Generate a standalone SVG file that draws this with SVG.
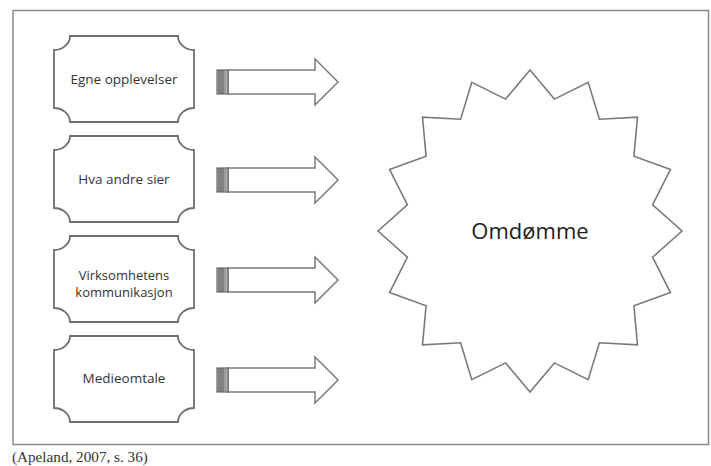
<svg xmlns="http://www.w3.org/2000/svg" width="711" height="466" viewBox="0 0 711 466">
<style>
.frame{fill:none;stroke:#8a8a8a;stroke-width:1.5}
.box{fill:#fff;stroke:#6e6e6e;stroke-width:1.8}
.lbl{font-family:"Open Sans","Liberation Sans",sans-serif;font-size:13.5px;fill:#333;text-anchor:middle}
.arrow{fill:#fff;stroke:#7a7a7a;stroke-width:1.5;stroke-linejoin:miter}
.star{fill:#fff;stroke:#7a7a7a;stroke-width:1.6;stroke-linejoin:miter}
.big{font-family:"Open Sans","Liberation Sans",sans-serif;font-size:22px;fill:#222;text-anchor:middle}
.cap{font-family:"Liberation Serif","Times New Roman",serif;font-size:15.2px;fill:#333}
</style>
<defs>
<path id="plaque" d="M70,36 H178 A16,14 0 0 0 194,50 V108 A16,14 0 0 0 178,122 H70 A16,14 0 0 0 54,108 V50 A16,14 0 0 0 70,36 Z"/>
<g id="arr">
<path class="arrow" d="M228,-12 H315 V-23 L338,0 L315,23 V12 H228 Z"/>
<rect x="217" y="-12" width="11" height="24" fill="#b0b0b0" stroke="#6a6a6a" stroke-width="1.2"/>
<g stroke="#555" stroke-width="1">
<line x1="219" y1="-12" x2="219" y2="12"/>
<line x1="221" y1="-12" x2="221" y2="12"/>
<line x1="223" y1="-12" x2="223" y2="12"/>
<line x1="225" y1="-12" x2="225" y2="12" stroke="#888"/>
</g>
</g>
</defs>
<rect class="frame" x="13" y="10.5" width="695.5" height="434"/>
<g id="node-egne">
<use href="#plaque" class="box"/>
<text class="lbl" x="124" y="84">Egne opplevelser</text>
</g>
<g id="node-hva">
<use href="#plaque" class="box" transform="translate(0,100)"/>
<text class="lbl" x="124" y="184">Hva andre sier</text>
</g>
<g id="node-virk">
<use href="#plaque" class="box" transform="translate(0,200)"/>
<text class="lbl" x="124" y="280" style="font-size:13px">Virksomhetens</text>
<text class="lbl" x="124" y="297" style="font-size:13px">kommunikasjon</text>
</g>
<g id="node-medie">
<use href="#plaque" class="box" transform="translate(0,300)"/>
<text class="lbl" x="124" y="383">Medieomtale</text>
</g>
<g id="connectors">
<use href="#arr" transform="translate(0,82)"/>
<use href="#arr" transform="translate(0,180)"/>
<use href="#arr" transform="translate(0,280)"/>
<use href="#arr" transform="translate(0,380)"/>
</g>
<g id="node-omdomme">
<polygon class="star" points="530,70 554.4,99.1 588.2,82.3 599.4,119.2 637.5,117.2 633.9,156.3 670.4,169.4 652.6,204.8 682,231 652.6,257.2 670.4,292.6 633.9,305.7 637.5,344.8 599.4,342.8 588.2,379.7 554.4,362.9 530,392 505.6,362.9 471.8,379.7 460.6,342.8 422.5,344.8 426.1,305.7 389.6,292.6 407.4,257.2 378,231 407.4,204.8 389.6,169.4 426.1,156.3 422.5,117.2 460.6,119.2 471.8,82.3 505.6,99.1"/>
<text class="big" x="530" y="239">Omdømme</text>
</g>
<text class="cap" x="12" y="462">(Apeland, 2007, s. 36)</text>
</svg>
